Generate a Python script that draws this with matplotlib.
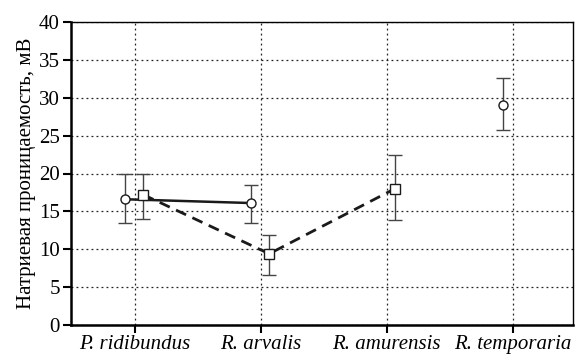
import matplotlib
matplotlib.use("Agg")
import matplotlib.pyplot as plt

plt.rcParams['font.family'] = ['Liberation Serif', 'DejaVu Serif']

species = ['P. ridibundus', 'R. arvalis', 'R. amurensis', 'R. temporaria']

# circles (solid line): ridibundus, arvalis, temporaria
circ_idx = [0, 1, 3]
circ_val = [16.6, 16.1, 29.1]
circ_lo = [13.4, 13.5, 25.7]
circ_hi = [20.0, 18.5, 32.6]

# squares (dashed line): ridibundus, arvalis, amurensis
sq_idx = [0, 1, 2]
sq_val = [17.2, 9.4, 18.0]
sq_lo = [14.0, 6.6, 13.9]
sq_hi = [20.0, 11.9, 22.4]

yticks = [0, 5, 10, 15, 20, 25, 30, 35, 40]

fig = plt.figure(figsize=(5.75, 3.57), dpi=100)
ax = fig.add_axes([71/575, 1-325/357, 502/575, 303/357])

cx = [i - 0.08 for i in circ_idx]
sx = [i + 0.065 for i in sq_idx]

# error bars
ax.errorbar(cx, circ_val,
            yerr=[[v - l for v, l in zip(circ_val, circ_lo)], [h - v for v, h in zip(circ_val, circ_hi)]],
            fmt='none', ecolor='#444444', elinewidth=1.0, capsize=5, capthick=1.0, zorder=3)
ax.errorbar(sx, sq_val,
            yerr=[[v - l for v, l in zip(sq_val, sq_lo)], [h - v for v, h in zip(sq_val, sq_hi)]],
            fmt='none', ecolor='#444444', elinewidth=1.0, capsize=5, capthick=1.0, zorder=3)

# lines
ax.plot(cx[:2], circ_val[:2], '-', color='#1a1a1a', lw=1.8, zorder=4)
ax.plot(sx, sq_val, '--', color='#1a1a1a', lw=2.0, dashes=(4, 2.5), zorder=4)

# markers
ax.plot(cx, circ_val, 'o', ls='none', mfc='white', mec='#1a1a1a', ms=6.5, mew=1.0, zorder=5)
ax.plot(sx, sq_val, 's', ls='none', mfc='white', mec='#1a1a1a', ms=6.5, mew=1.0, zorder=5)

ax.set_xlim(-0.51, 3.48)
ax.set_ylim(0, 40)
ax.set_yticks(yticks)
ax.set_xticks(range(len(species)))
ax.set_xticklabels(species, fontstyle='italic', fontsize=15)
ax.tick_params(axis='y', labelsize=15, direction='out', length=6, width=1.5, pad=2)
ax.tick_params(axis='x', direction='out', length=6, width=1.5, pad=1)

ax.grid(True, ls=(0, (1.5, 2.5)), color='#222222', lw=0.9)
ax.set_axisbelow(True)

for sp in ['left', 'bottom']:
    ax.spines[sp].set_linewidth(1.8)
for sp in ['top', 'right']:
    ax.spines[sp].set_linewidth(1.0)

ax.set_ylabel('Натриевая проницаемость, мВ', fontsize=15, labelpad=2)

fig.savefig('out.png', dpi=100)
